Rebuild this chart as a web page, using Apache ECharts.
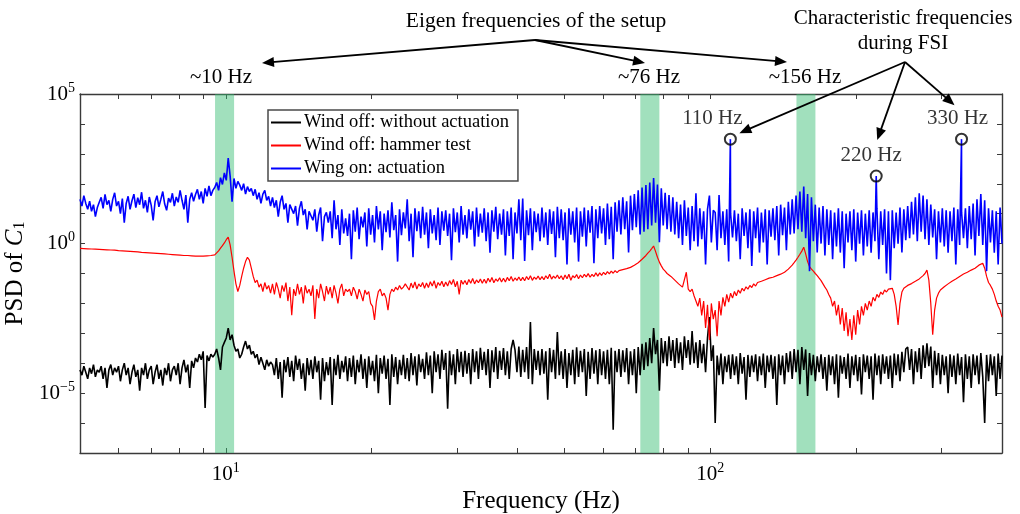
<!DOCTYPE html>
<html>
<head>
<meta charset="utf-8">
<script src="https://cdn.jsdelivr.net/npm/echarts@6/dist/echarts.min.js"></script>
<style>
  html, body { margin: 0; padding: 0; background: #fff; }
  #chart { width: 1020px; height: 514px; }
</style>
</head>
<body>
<div id="chart"></div>
<script>
// Spectral bins (Hz), log-spaced over the analysed band
const F_MIN = 5, F_MAX = 400, BIN_COUNT = 480;
const freqBins = Array.from({ length: BIN_COUNT }, (_, i) => F_MIN * Math.pow(F_MAX / F_MIN, i / (BIN_COUNT - 1)));

// PSD of C1, wind on with actuation (one row = 10 bins)
const psdWingOn = [
  30, 18, 40, 22, 14, 26, 12, 20, 8, 16,
  24, 35, 15, 44, 20, 28, 12, 30, 50, 18,
  26, 10, 32, 5, 22, 38, 14, 27, 45, 16,
  34, 20, 52, 15, 28, 11, 36, 19, 6, 25,
  40, 17, 30, 55, 21, 13, 33, 24, 48, 18,
  36, 24, 60, 28, 14, 42, 5, 30, 50, 26,
  44, 65, 30, 55, 22, 70, 38, 85, 40, 60,
  75, 110, 60, 160, 95, 230, 130, 720, 180, 25,
  150, 70, 120, 90, 60, 100, 45, 80, 55, 70,
  40, 65, 30, 50, 22, 45, 60, 28, 38, 18,
  35, 16, 28, 8, 24, 40, 14, 22, 5, 20,
  22, 10, 18, 4, 15, 26, 9, 14, 3, 12,
  12, 6, 14, 2.5, 9, 16, 1.2, 8, 11, 5,
  12, 1.5, 28, 3, 9, 0.9, 14, 2.2, 7, 1.8,
  10, 0.3, 13, 2.5, 16, 1.4, 8, 3.5, 11, 0.8,
  15, 2, 9, 1.1, 18, 3, 12, 0.6, 10, 2.4,
  13, 1.6, 24, 2.8, 9, 0.25, 14, 1.9, 11, 3.2,
  30, 1.2, 10, 0.35, 15, 2.6, 12, 1.5, 17, 2,
  11, 0.7, 14, 2.2, 9, 1.3, 16, 0.9, 12, 2.7,
  13, 1.8, 10, 0.28, 15, 2.4, 11, 1.1, 18, 2,
  9, 1.5, 14, 2.9, 12, 0.8, 16, 1.7, 10, 2.3,
  15, 1.2, 11, 0.5, 13, 2.5, 17, 1.4, 10, 2,
  14, 0.4, 12, 1.8, 16, 0.3, 11, 2.2, 30, 1.3,
  32, 0.26, 13, 1.9, 15, 0.6, 12, 2.4, 10, 1.2,
  16, 1.6, 11, 0.9, 14, 2.1, 12, 0.35, 17, 1.5,
  14, 1.3, 11, 0.2, 15, 2, 12, 1.1, 16, 0.25,
  12, 1.7, 16, 0.8, 13, 2.3, 18, 0.22, 14, 1.5,
  18, 2.2, 15, 0.9, 22, 1.4, 17, 0.3, 24, 2.5,
  28, 2, 35, 3, 26, 0.5, 40, 2.8, 45, 3.5,
  60, 2, 75, 2.5, 90, 3, 110, 4, 155, 5,
  95, 1.1, 70, 4, 50, 3, 42, 2.5, 35, 2,
  25, 1.5, 20, 0.9, 28, 1.8, 16, 0.6, 18, 1.2,
  48, 0.8, 15, 1.4, 12, 0.2, 14, 40, 1.1, 13,
  11, 0.6, 42, 1.5, 12, 0.9, 14, 0.25, 10, 1.6,
  13, 1.2, 10, 0.3, 15, 1.8, 11, 0.7, 14, 0.18,
  12, 1.5, 16, 0.5, 11, 1.1, 14, 0.2, 13, 1.7,
  15, 1.3, 18, 0.4, 20, 1.9, 16, 0.6, 25, 2,
  30, 2.2, 40, 3, 55, 2.5, 80, 1.5, 45, 0.12,
  35, 1.2, 20, 0.5, 16, 1, 18, 0.4, 14, 0.9,
  13, 0.3, 11, 0.8, 15, 0.5, 12, 0.15, 10, 1.1,
  12, 0.6, 14, 0.25, 11, 1, 13, 0.4, 10, 0.8,
  13, 0.5, 11, 1.2, 15, 0.3, 12, 0.9, 14, 0.1,
  12, 0.06, 13, 0.7, 11, 1, 16, 0.5, 14, 1.3,
  18, 1.5, 25, 2, 35, 1.2, 48, 2.5, 40, 1.4,
  30, 0.9, 20, 1.6, 14, 0.3, 12, 1.1, 15, 0.8,
  13, 0.5, 12, 1.2, 16, 0.2, 14, 0.9, 11, 1.5,
  15, 0.7, 18, 1.4, 22, 0.4, 30, 1.8, 45, 0.9,
  28, 0.12, 15, 1.1, 13, 0.5, 12, 0.2, 16, 1
];

// PSD of C1, wind off, hammer test
const psdHammer = [
  0.69, 0.69, 0.68, 0.68, 0.67, 0.67, 0.66, 0.66, 0.65, 0.65,
  0.64, 0.64, 0.63, 0.63, 0.62, 0.61, 0.61, 0.6, 0.6, 0.59,
  0.58, 0.58, 0.57, 0.57, 0.56, 0.55, 0.55, 0.54, 0.54, 0.53,
  0.53, 0.52, 0.51, 0.51, 0.5, 0.5, 0.49, 0.48, 0.48, 0.47,
  0.47, 0.46, 0.46, 0.45, 0.45, 0.44, 0.44, 0.43, 0.43, 0.42,
  0.42, 0.41, 0.41, 0.41, 0.4, 0.4, 0.4, 0.39, 0.39, 0.39,
  0.38, 0.38, 0.38, 0.38, 0.38, 0.38, 0.39, 0.39, 0.4, 0.4,
  0.42, 0.48, 0.57, 0.7, 0.85, 1.05, 1.35, 1.65, 0.9, 0.35,
  0.12, 0.045, 0.025, 0.04, 0.08, 0.15, 0.25, 0.35, 0.28, 0.15,
  0.08, 0.05, 0.06, 0.035, 0.045, 0.025, 0.05, 0.03, 0.04, 0.022,
  0.045, 0.02, 0.05, 0.03, 0.015, 0.04, 0.025, 0.05, 0.012, 0.035,
  0.004, 0.03, 0.018, 0.045, 0.02, 0.035, 0.01, 0.04, 0.022, 0.03,
  0.018, 0.04, 0.003, 0.03, 0.015, 0.045, 0.025, 0.012, 0.038, 0.02,
  0.035, 0.015, 0.04, 0.022, 0.01, 0.03, 0.045, 0.018, 0.03, 0.025,
  0.03, 0.018, 0.035, 0.025, 0.014, 0.03, 0.02, 0.012, 0.028, 0.02,
  0.025, 0.01, 0.008, 0.0028, 0.012, 0.025, 0.03, 0.018, 0.022, 0.015,
  0.006, 0.02, 0.03, 0.025, 0.035, 0.028, 0.04, 0.03, 0.035, 0.045,
  0.04, 0.028, 0.048, 0.033, 0.052, 0.03, 0.045, 0.036, 0.05, 0.032,
  0.048, 0.034, 0.053, 0.038, 0.058, 0.032, 0.05, 0.04, 0.055, 0.036,
  0.052, 0.038, 0.058, 0.043, 0.063, 0.036, 0.055, 0.02, 0.06, 0.044,
  0.058, 0.042, 0.063, 0.047, 0.068, 0.045, 0.061, 0.049, 0.066, 0.047,
  0.064, 0.047, 0.069, 0.052, 0.074, 0.049, 0.066, 0.055, 0.072, 0.052,
  0.069, 0.052, 0.074, 0.057, 0.079, 0.055, 0.071, 0.059, 0.076, 0.057,
  0.074, 0.057, 0.079, 0.062, 0.084, 0.059, 0.076, 0.064, 0.082, 0.062,
  0.079, 0.062, 0.084, 0.067, 0.094, 0.065, 0.082, 0.069, 0.089, 0.067,
  0.084, 0.062, 0.089, 0.067, 0.094, 0.059, 0.084, 0.072, 0.092, 0.067,
  0.089, 0.072, 0.094, 0.077, 0.099, 0.075, 0.094, 0.079, 0.105, 0.082,
  0.105, 0.087, 0.11, 0.092, 0.115, 0.097, 0.12, 0.102, 0.125, 0.107,
  0.125, 0.12, 0.135, 0.13, 0.145, 0.14, 0.16, 0.17, 0.19, 0.21,
  0.23, 0.26, 0.3, 0.34, 0.4, 0.48, 0.56, 0.68, 0.83, 0.55,
  0.35, 0.24, 0.18, 0.14, 0.12, 0.1, 0.09, 0.08, 0.07, 0.06,
  0.055, 0.045, 0.05, 0.035, 0.04, 0.11, 0.03, 0.025, 0.03, 0.018,
  0.02, 0.008, 0.015, 0.004, 0.012, 0.0015, 0.009, 0.0006, 0.01, 0.003,
  0.006, 0.0008, 0.012, 0.004, 0.016, 0.008, 0.02, 0.011, 0.022, 0.015,
  0.025, 0.018, 0.028, 0.022, 0.032, 0.026, 0.036, 0.03, 0.04, 0.034,
  0.045, 0.038, 0.05, 0.044, 0.055, 0.05, 0.062, 0.056, 0.07, 0.064,
  0.075, 0.07, 0.085, 0.08, 0.095, 0.09, 0.11, 0.12, 0.14, 0.16,
  0.19, 0.23, 0.28, 0.35, 0.44, 0.56, 0.76, 0.45, 0.25, 0.17,
  0.14, 0.12, 0.1, 0.085, 0.07, 0.058, 0.045, 0.035, 0.028, 0.02,
  0.015, 0.008, 0.012, 0.004, 0.009, 0.002, 0.007, 0.0012, 0.005, 0.0008,
  0.003, 0.0006, 0.004, 0.0009, 0.006, 0.002, 0.008, 0.004, 0.01, 0.006,
  0.012, 0.008, 0.016, 0.012, 0.02, 0.016, 0.024, 0.02, 0.028, 0.024,
  0.03, 0.026, 0.032, 0.02, 0.008, 0.0019, 0.01, 0.024, 0.032, 0.036,
  0.04, 0.042, 0.046, 0.05, 0.055, 0.06, 0.066, 0.075, 0.085, 0.1,
  0.13, 0.06, 0.01, 0.0009, 0.006, 0.015, 0.022, 0.028, 0.032, 0.036,
  0.04, 0.045, 0.05, 0.055, 0.06, 0.066, 0.072, 0.08, 0.088, 0.096,
  0.1, 0.11, 0.12, 0.13, 0.14, 0.15, 0.17, 0.19, 0.21, 0.22,
  0.15, 0.08, 0.05, 0.04, 0.03, 0.02, 0.012, 0.008, 0.006, 0.0035
];

// PSD of C1, wind off, no actuation
const psdNoActuation = [
  6e-5, 4e-5, 8e-5, 5e-5, 3e-5, 7e-5, 4.5e-5, 9e-5, 3.5e-5, 6e-5,
  5e-5, 8e-5, 3e-5, 7e-5, 1.5e-5, 6e-5, 9e-5, 4e-5, 7e-5, 5e-5,
  8e-5, 2.5e-5, 6e-5, 1e-4, 4e-5, 7e-5, 2e-5, 5e-5, 9e-5, 3.5e-5,
  6e-5, 1.2e-5, 7e-5, 4e-5, 1e-4, 3e-5, 6e-5, 8e-5, 2e-5, 5e-5,
  9e-5, 3e-5, 6e-5, 1.8e-5, 7e-5, 4e-5, 1e-4, 2.5e-5, 6e-5, 8e-5,
  4e-5, 1e-4, 2e-5, 7e-5, 1.3e-4, 5e-5, 9e-5, 1.5e-5, 1.2e-4, 7e-5,
  1.5e-4, 1.1e-4, 2e-4, 1.3e-4, 2.5e-4, 3.2e-6, 1.8e-4, 1.2e-4, 2e-4, 1.6e-4,
  2e-4, 3e-4, 1.5e-4, 6e-5, 3.5e-4, 5e-4, 7e-4, 1.5e-3, 6e-4, 9e-4,
  4e-4, 2.5e-4, 3e-4, 1.5e-4, 2e-4, 3.5e-4, 5.5e-4, 3e-4, 4e-4, 2e-4,
  2.5e-4, 1.5e-4, 2e-4, 9e-5, 1.6e-4, 1e-4, 6e-5, 1.3e-4, 8e-5, 1.1e-4,
  9e-5, 4e-5, 1.5e-4, 3e-5, 1.1e-4, 7e-6, 1.3e-4, 5e-5, 1.6e-4, 3.5e-5,
  1.2e-4, 2.5e-5, 1.8e-4, 6e-5, 1.4e-4, 3e-5, 1e-4, 1.2e-5, 1.5e-4, 4e-5,
  1.3e-4, 3e-5, 1.7e-4, 5e-5, 1.2e-4, 6e-6, 1.5e-4, 2.5e-5, 1.1e-4, 4e-5,
  1.6e-4, 4e-6, 1.4e-4, 4e-5, 1.9e-4, 3e-5, 1.2e-4, 5e-5, 1.7e-4, 2.5e-5,
  1.5e-4, 3.5e-5, 1.8e-4, 2e-5, 1.3e-4, 5e-5, 2e-4, 3e-5, 1.4e-4, 1.5e-5,
  1.7e-4, 4e-5, 1.2e-4, 2.5e-5, 1.9e-4, 1e-5, 1.5e-4, 4.5e-5, 1.8e-4, 3e-5,
  1.4e-4, 4e-6, 2e-4, 3.5e-5, 1.6e-4, 2e-5, 1.3e-4, 4e-5, 1.9e-4, 3e-5,
  1.5e-4, 2.5e-5, 2.2e-4, 4e-5, 1.7e-4, 1.8e-5, 2e-4, 5e-5, 1.4e-4, 3e-5,
  2.3e-4, 4e-5, 1.8e-4, 1e-5, 2.5e-4, 5e-5, 2e-4, 3e-5, 2.8e-4, 6e-5,
  2.2e-4, 3e-6, 2.6e-4, 4e-5, 2e-4, 2e-5, 3e-4, 5e-5, 2.4e-4, 3.5e-5,
  2.6e-4, 4.5e-5, 2.2e-4, 2e-5, 3e-4, 5e-5, 2.5e-4, 3e-5, 3.3e-4, 6e-5,
  2.4e-4, 4e-5, 3e-4, 1.5e-5, 2.7e-4, 5e-5, 3.5e-4, 3e-5, 2.6e-4, 6e-5,
  3.2e-4, 4e-5, 2.5e-4, 3e-5, 3e-4, 6e-4, 2.8e-4, 5e-5, 3.6e-4, 3.5e-5,
  2.8e-4, 5e-5, 3.5e-4, 3e-5, 2.4e-3, 2e-5, 3e-4, 6e-5, 2.6e-4, 4e-5,
  3e-4, 4.5e-5, 2.5e-4, 6e-6, 3.2e-4, 5e-5, 2.8e-4, 3e-5, 1.1e-3, 4e-5,
  2.5e-4, 3e-5, 3e-4, 1.5e-5, 2.2e-4, 4e-5, 2.8e-4, 2e-5, 3.4e-4, 3.5e-5,
  2.6e-4, 5e-5, 3e-4, 8e-6, 2.4e-4, 3e-5, 3.2e-4, 4.5e-5, 2.7e-4, 2e-5,
  3e-4, 4e-5, 2.5e-4, 3e-5, 2.8e-4, 2e-5, 3.3e-4, 6e-7, 2.6e-4, 5e-5,
  3e-4, 3.5e-5, 2.7e-4, 5e-5, 3.2e-4, 2e-5, 2.5e-4, 4e-5, 3e-4, 1e-5,
  3.5e-4, 4e-5, 4.5e-4, 6e-5, 5e-4, 8e-5, 7e-4, 1e-4, 1.5e-3, 2e-4,
  6e-4, 1.2e-5, 7e-4, 1e-4, 5.5e-4, 8e-5, 8e-4, 1.2e-4, 6e-4, 7e-5,
  7e-4, 1e-4, 5e-4, 6e-5, 8e-4, 1.5e-4, 6e-4, 9e-5, 1.2e-3, 1e-4,
  5e-4, 7e-5, 6e-4, 1e-4, 4.5e-4, 5e-5, 7e-4, 3.5e-3, 1.2e-4, 4e-4,
  1e-6, 1.8e-4, 4e-5, 2.1e-4, 2e-5, 1.7e-4, 5e-5, 1.9e-4, 3e-5, 2e-4,
  4e-5, 1.7e-4, 2e-5, 2.2e-4, 4.5e-5, 1.6e-4, 6e-6, 1.9e-4, 3.5e-5, 1.8e-4,
  5e-5, 2e-4, 2.5e-5, 1.7e-4, 4e-5, 2.1e-4, 1.5e-5, 1.8e-4, 5e-5, 1.9e-4,
  3e-5, 1.7e-4, 4e-6, 2e-4, 4e-5, 1.8e-4, 2e-5, 2.2e-4, 5e-5, 2.5e-4,
  3e-5, 3e-4, 5e-5, 2.8e-4, 2e-5, 3.5e-4, 6e-5, 2.9e-4, 8e-6, 2.2e-4,
  4e-5, 1.9e-4, 2.5e-5, 1.7e-4, 5e-5, 2e-4, 3e-5, 1.6e-4, 1.2e-5, 1.9e-4,
  4e-5, 1.7e-4, 2e-5, 2e-4, 7e-6, 1.8e-4, 4.5e-5, 1.6e-4, 3e-5, 2.1e-4,
  1.5e-5, 1.7e-4, 4e-5, 1.9e-4, 2.5e-5, 1.6e-4, 9e-6, 2e-4, 5e-5, 1.8e-4,
  3e-5, 1.7e-4, 6e-6, 2.1e-4, 4e-5, 1.8e-4, 2e-5, 2e-4, 4.5e-5, 1.7e-4,
  3e-5, 1.8e-4, 1.5e-5, 2.1e-4, 4e-5, 2e-4, 2.5e-5, 2.4e-4, 5e-5, 3e-4,
  3.5e-4, 6e-5, 3e-4, 2e-5, 2.5e-4, 5e-5, 3.2e-4, 3e-5, 4e-4, 7e-5,
  4.6e-4, 8e-5, 3.6e-4, 1.5e-5, 2.6e-4, 4e-5, 2.2e-4, 2e-5, 1.9e-4, 4e-5,
  1.7e-4, 1e-5, 2e-4, 3.5e-5, 1.8e-4, 2e-5, 2.1e-4, 4e-5, 1.6e-4, 5e-6,
  2e-4, 3e-5, 1.7e-4, 1.5e-5, 2e-4, 4e-5, 1.8e-4, 2e-5, 2.2e-4, 3.5e-5,
  1e-6, 1.9e-4, 2.5e-5, 2e-4, 4e-5, 1.7e-4, 8e-6, 2.1e-4, 3e-5, 1.8e-4
];

// Characteristic FSI peaks in the actuated spectrum
const fsiFreqs = [110, 220, 330];
const fsiPsd = [3100, 181, 3100];
const fsiLabels = ['110 Hz', '220 Hz', '330 Hz'];

// Eigen-frequency bands of the setup (Hz)
const eigenBands = [[9.5, 10.4], [71.7, 78.5], [150.6, 164.8]];
const eigenLabels = ['~10 Hz', '~76 Hz', '~156 Hz'];

// Axis ticks
const xTickValues = [5, 6, 7, 8, 9, 10, 20, 30, 40, 50, 60, 70, 80, 90, 100, 200, 300, 400];
const xLabelValues = [10, 100];
const yTickValues = [1e-7, 1e-6, 1e-5, 1e-4, 1e-3, 1e-2, 1e-1, 1, 1e1, 1e2, 1e3, 1e4, 1e5];
const yLabelValues = [1e-5, 1, 1e5];

const seriesNames = ['Wind off: without actuation', 'Wind off: hammer test', 'Wing on: actuation'];
const seriesColors = ['#000000', '#ff0000', '#0000ff'];
const seriesWidths = [1.6, 1.2, 1.6];

const SERIF = '"Liberation Serif", "Times New Roman", serif';
const AXIS_COLOR = '#3a3a3a';
const NOTE_SIZE = 21;

function pairs(values) {
  return values.map((v, i) => [freqBins[i], v]);
}
const wingOnData = pairs(psdWingOn)
  .concat(fsiFreqs.map((f, k) => [f, fsiPsd[k]]))
  .sort((a, b) => a[0] - b[0]);

function powerLabel(v) {
  const e = Math.round(Math.log10(v));
  return '{b|10}{s|' + (e < 0 ? '\u2212' + (-e) : String(e)) + '}';
}
const powerRich = {
  b: { fontFamily: SERIF, fontSize: 21, color: '#000' },
  s: { fontFamily: SERIF, fontSize: 14, color: '#000', padding: [0, 0, 12, 0] }
};

function logAxis(dim, pos, main) {
  const isX = dim === 'x';
  return {
    type: 'log',
    logBase: 10,
    position: pos,
    min: isX ? F_MIN : 1e-7,
    max: isX ? F_MAX : 1e5,
    axisLine: { show: true, onZero: false, lineStyle: { color: AXIS_COLOR, width: 1.4 } },
    axisTick: { show: true, inside: true, length: 5, customValues: isX ? xTickValues : yTickValues,
      lineStyle: { color: AXIS_COLOR, width: 1 } },
    minorTick: { show: false },
    splitLine: { show: false },
    axisLabel: main ? {
      show: true,
      customValues: isX ? xLabelValues : yLabelValues,
      formatter: powerLabel,
      rich: powerRich,
      margin: isX ? 8 : 5
    } : { show: false }
  };
}

const xMain = logAxis('x', 'bottom', true);
xMain.name = 'Frequency (Hz)';
xMain.nameLocation = 'middle';
xMain.nameGap = 30;
xMain.nameTextStyle = { fontFamily: SERIF, fontSize: 25, color: '#000' };

const yMain = logAxis('y', 'left', true);
yMain.name = '{t|PSD of }{i|C}{u|1}';
yMain.nameLocation = 'middle';
yMain.nameGap = 41;
yMain.nameTextStyle = {
  rich: {
    t: { fontFamily: SERIF, fontSize: 25, color: '#000' },
    i: { fontFamily: SERIF, fontSize: 25, fontStyle: 'italic', color: '#000' },
    u: { fontFamily: SERIF, fontSize: 16, color: '#000', padding: [10, 0, 0, 0] }
  }
};

const chart = echarts.init(document.getElementById('chart'), null, { renderer: 'canvas' });

const lineSeries = [pairs(psdNoActuation), pairs(psdHammer), wingOnData].map((data, k) => ({
  name: seriesNames[k],
  type: 'line',
  data: data,
  showSymbol: false,
  symbol: 'none',
  smooth: false,
  z: 2 + k,
  lineStyle: { color: seriesColors[k], width: seriesWidths[k] },
  itemStyle: { color: seriesColors[k] },
  emphasis: { disabled: true }
}));

chart.setOption({
  animation: false,
  backgroundColor: '#ffffff',
  grid: { left: 80, right: 18, top: 94, bottom: 61, containLabel: false, outerBoundsMode: 'none' },
  xAxis: [xMain, logAxis('x', 'top', false)],
  yAxis: [yMain, logAxis('y', 'right', false)],
  legend: {
    orient: 'vertical',
    left: 268,
    top: 110,
    backgroundColor: '#ffffff',
    borderColor: '#4a4a4a',
    borderWidth: 1.5,
    borderRadius: 0,
    padding: [3, 9, 3, 3],
    itemGap: 4,
    itemWidth: 30,
    itemHeight: 2,
    selectedMode: false,
    textStyle: { fontFamily: SERIF, fontSize: 18.5, color: '#000', padding: [0, 0, 0, -2] },
    data: seriesNames.map((n) => ({ name: n, icon: 'rect' })),
    z: 20
  },
  series: lineSeries.concat([
    {
      name: 'eigen bands',
      type: 'line',
      data: [],
      z: 10,
      silent: true,
      markArea: {
        silent: true,
        itemStyle: { color: 'rgba(55,190,115,0.47)' },
        data: eigenBands.map((b) => [{ xAxis: b[0] }, { xAxis: b[1] }])
      }
    },
    {
      name: 'FSI peaks',
      type: 'scatter',
      z: 12,
      silent: true,
      symbol: 'circle',
      symbolSize: 11,
      itemStyle: { color: 'rgba(255,255,255,0)', borderColor: '#000', borderWidth: 2 },
      data: fsiFreqs.map((f, k) => ({
        value: [f, fsiPsd[k]],
        label: { offset: [[-18, 0], [-5, 0], [-4, 0]][k] }
      })),
      label: {
        show: true,
        position: 'top',
        distance: 4,
        formatter: (p) => fsiLabels[p.dataIndex],
        fontFamily: SERIF,
        fontSize: NOTE_SIZE,
        color: '#000'
      }
    }
  ])
});

// Annotation layer: callouts with arrows
function arrow(x1, y1, x2, y2) {
  const dx = x2 - x1, dy = y2 - y1;
  const len = Math.sqrt(dx * dx + dy * dy);
  const ux = dx / len, uy = dy / len;
  const hl = 12, hw = 5;
  const bx = x2 - ux * hl, by = y2 - uy * hl;
  return [
    { type: 'line', silent: true, z: 30,
      shape: { x1: x1, y1: y1, x2: bx + ux * 2, y2: by + uy * 2 },
      style: { stroke: '#000', lineWidth: 1.8 } },
    { type: 'polygon', silent: true, z: 30,
      shape: { points: [[x2, y2], [bx - uy * hw, by + ux * hw], [bx + uy * hw, by - ux * hw]] },
      style: { fill: '#000' } }
  ];
}
function text(str, x, y, size) {
  return { type: 'text', silent: true, z: 30, x: x, y: y,
    style: { text: str, font: size + 'px ' + SERIF, fill: '#000', align: 'center', verticalAlign: 'middle' } };
}

const graphics = [];
graphics.push(text('Eigen frequencies of the setup', 536, 21, 21.5));
const eigenOrigin = [535, 40];
const eigenTips = [[262, 63], [645, 63], [787, 62]];
eigenTips.forEach((t) => graphics.push(...arrow(eigenOrigin[0], eigenOrigin[1], t[0], t[1])));
const eigenLabelX = [221, 649, 805];
eigenLabels.forEach((s, k) => graphics.push(text(s, eigenLabelX[k], 77, NOTE_SIZE)));

graphics.push(text('Characteristic frequencies', 903, 18, NOTE_SIZE));
graphics.push(text('during FSI', 903, 43, NOTE_SIZE));
const fsiOrigin = [905, 62];
const fsiTipOffsets = [[9, -6], [1, -36], [-7, -34]];
fsiFreqs.forEach((f, k) => {
  const p = chart.convertToPixel({ xAxisIndex: 0, yAxisIndex: 0 }, [f, fsiPsd[k]]);
  graphics.push(...arrow(fsiOrigin[0], fsiOrigin[1], p[0] + fsiTipOffsets[k][0], p[1] + fsiTipOffsets[k][1]));
});

chart.setOption({ graphic: graphics });
</script>
</body>
</html>
